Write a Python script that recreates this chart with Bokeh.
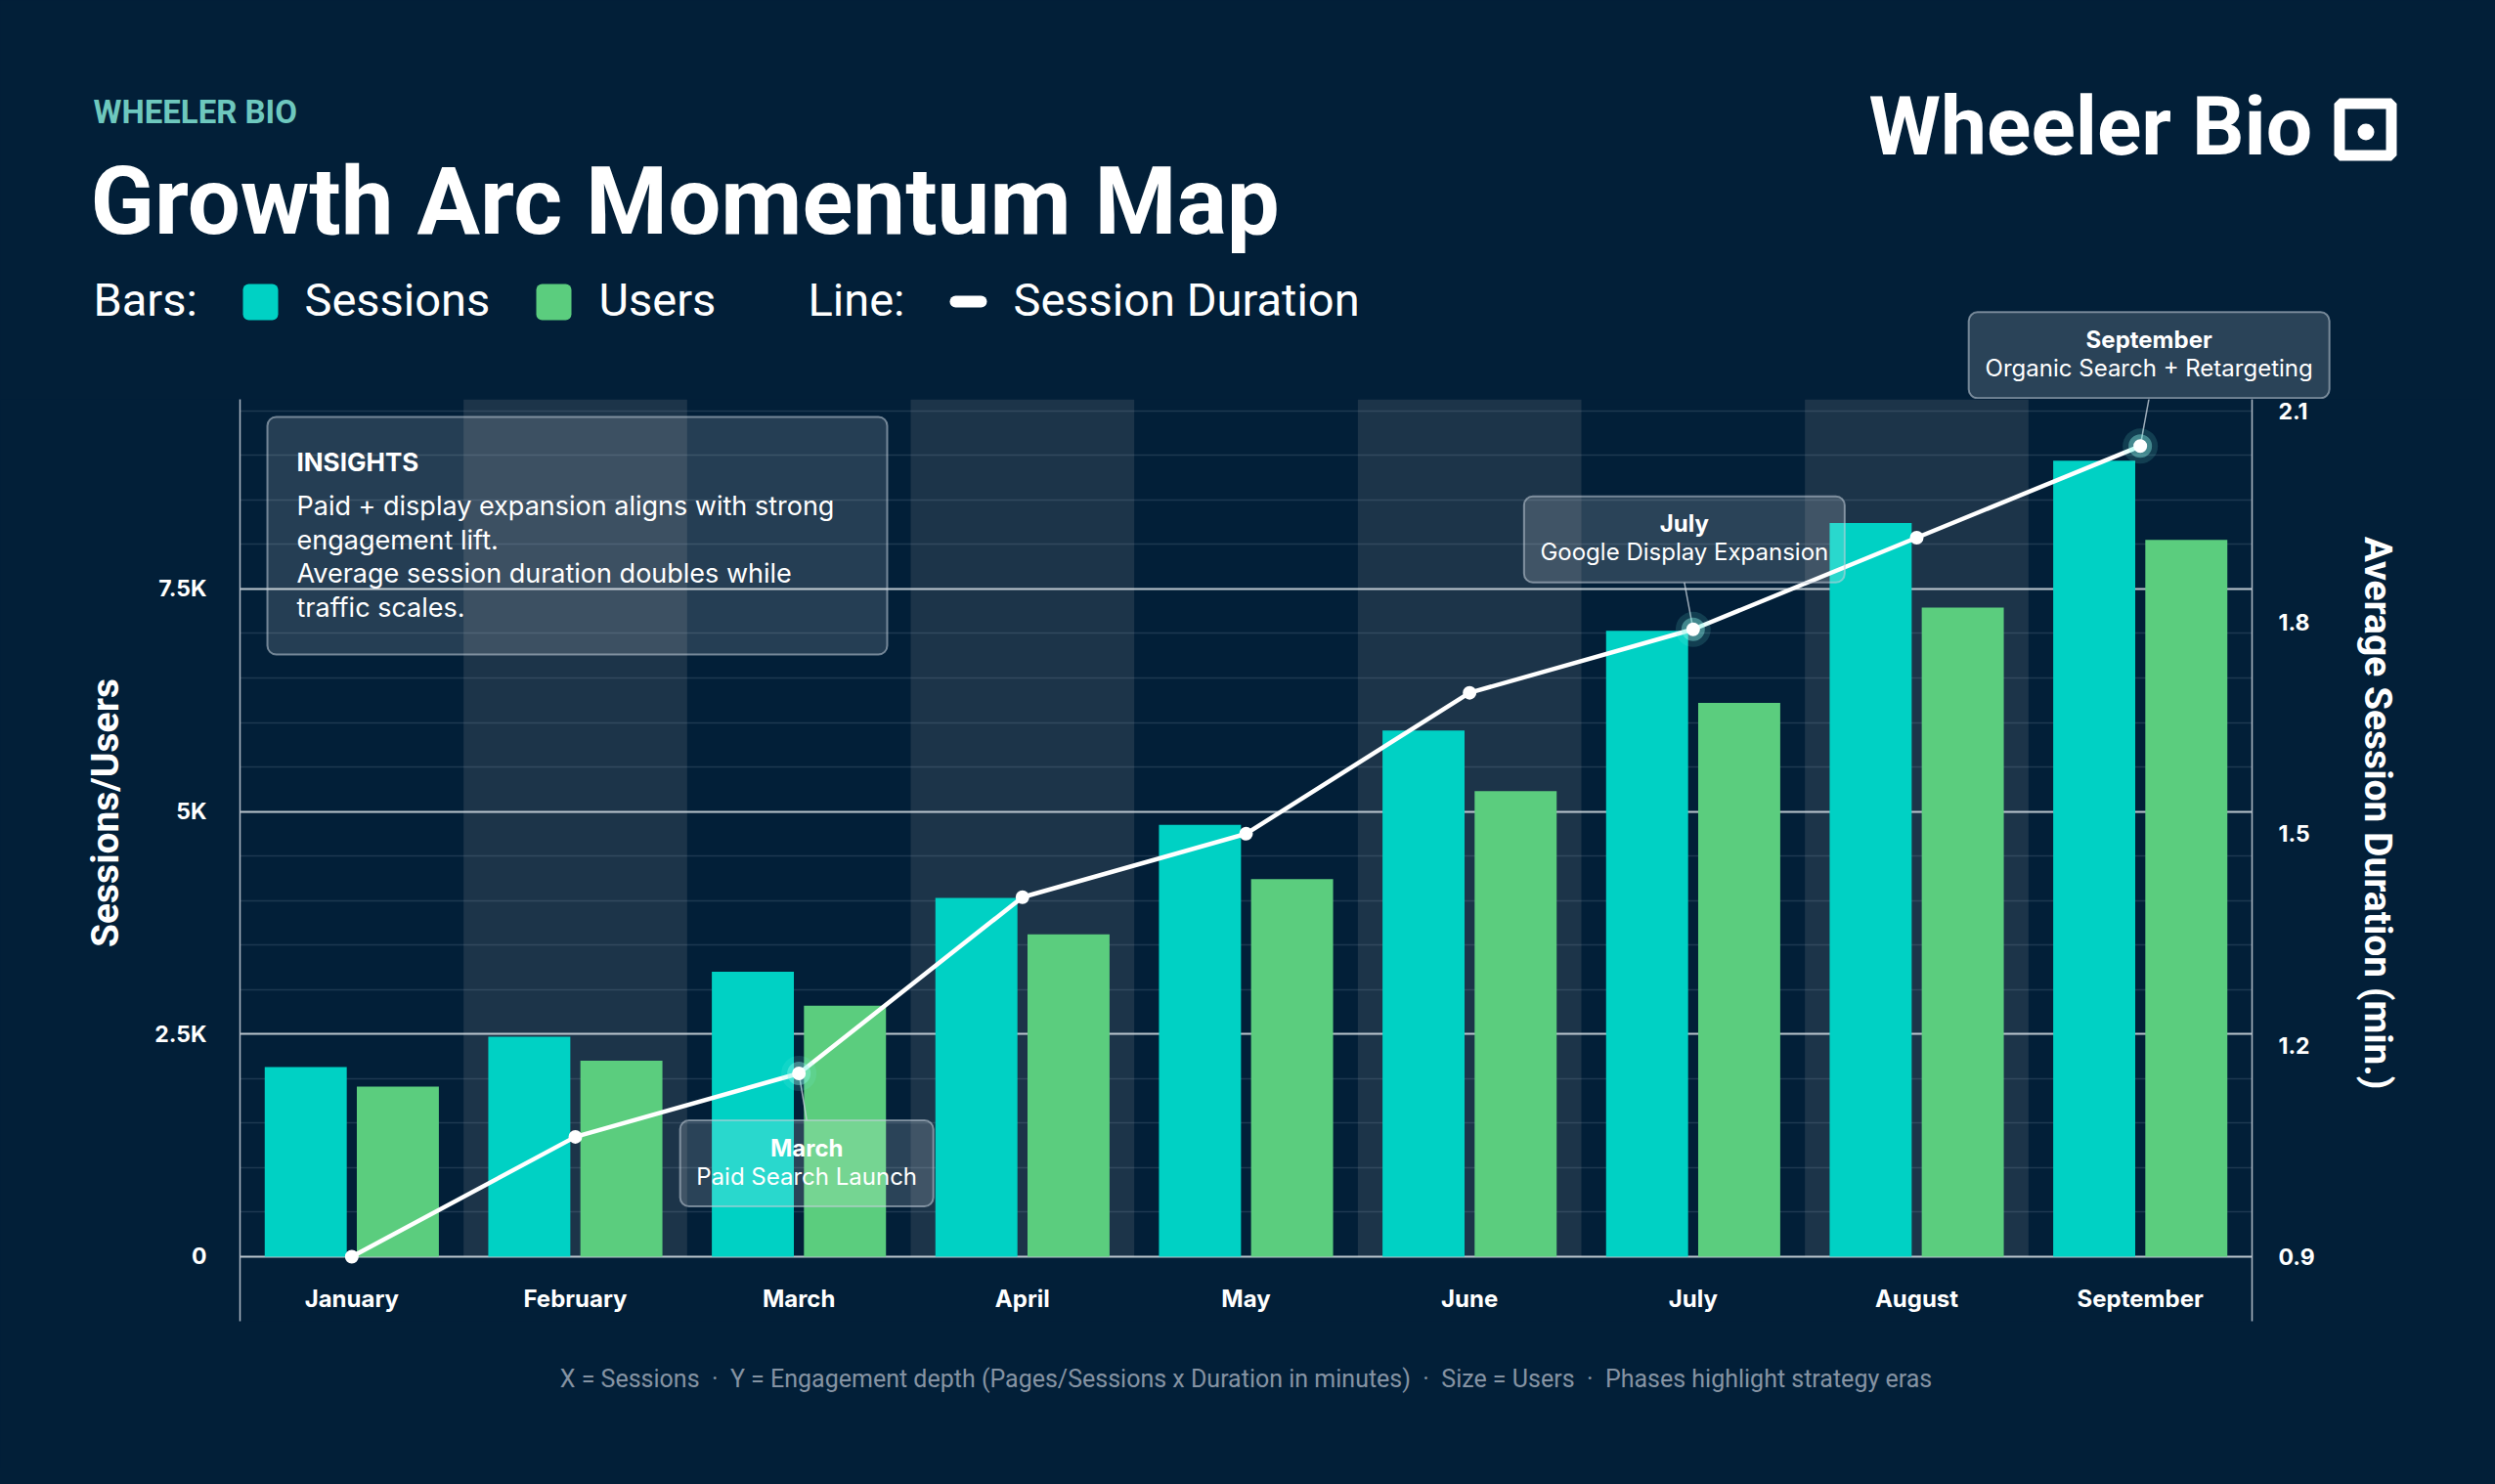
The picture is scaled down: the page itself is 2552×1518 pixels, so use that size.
from bokeh.plotting import figure
from bokeh.models import (ColumnDataSource, Range1d, FactorRange, LinearAxis, FixedTicker,
                          Label, BoxAnnotation, GlobalInlineStyleSheet)
from bokeh.transform import dodge
from bokeh.embed import file_html
from bokeh.resources import INLINE

# ---------------- data ----------------
months = ["January", "February", "March", "April", "May", "June", "July", "August", "September"]
sessions = [2130, 2470, 3200, 4030, 4850, 5910, 7030, 8240, 8940]
users = [1910, 2200, 2820, 3620, 4240, 5230, 6220, 7290, 8050]
duration = [0.90, 1.07, 1.16, 1.41, 1.50, 1.70, 1.79, 1.92, 2.05]
phase_months = ["February", "April", "June", "August"]

left_ticks = [0, 2500, 5000, 7500]
left_tick_labels = ["0", "2.5K", "5K", "7.5K"]
minor_ticks = [500, 1000, 1500, 2000, 3000, 3500, 4000, 4500, 5500, 6000, 6500, 7000,
               8000, 8500, 9000, 9500]
right_ticks = [0.9, 1.2, 1.5, 1.8, 2.1]
right_tick_labels = ["0.9", "1.2", "1.5", "1.8", "2.1"]

callout_months = ["March", "July", "September"]
callout_notes = ["Paid Search Launch", "Google Display Expansion", "Organic Search + Retargeting"]

insight_title = "INSIGHTS"
insight_lines = ["Paid + display expansion aligns with strong",
                 "engagement lift.",
                 "Average session duration doubles while",
                 "traffic scales."]

kicker = "WHEELER BIO"
title = "Growth Arc Momentum Map"
brand = "Wheeler Bio"
left_axis_title = "Sessions/Users"
right_axis_title = "Average Session Duration (min.)"
footnote = ("X = Sessions \u00a0\u00b7\u00a0 Y = Engagement depth (Pages/Sessions x Duration in minutes)"
            " \u00a0\u00b7\u00a0 Size = Users \u00a0\u00b7\u00a0 Phases highlight strategy eras")

# ---------------- style ----------------
BG = "#021f38"
BAND = "#1c3449"
TEAL = "#00d1c4"
GREEN = "#5bcd7e"
FONT = "Roboto"
BODY = "Inter"
BASE_FIX = 0.41           # label baseline correction (fraction of font size)
PAD = "\u00a0" * 10       # shifts the axis titles off the frame centre

W, H = 2536, 1502
FL, FR, FT, FB = 245, 2303, 408, 1351   # frame edges in page pixels
HDR_H = FT
Y0, Y1 = -725, 9629
D0, D1 = 0.8084, 2.1163
NCAT = len(months)


def X(page_x):
    """page pixel -> synthetic categorical coordinate"""
    return (page_x - FL) / (FR - FL) * NCAT


def page_x(i):
    return FL + (i + 0.5) * (FR - FL) / NCAT


def page_y_dur(d):
    return FB - (d - D0) / (D1 - D0) * (FB - FT)


# ================= header figure (page coordinates) =================
hdr = figure(width=W, height=HDR_H, x_range=Range1d(0, W), y_range=Range1d(HDR_H, 0),
             output_backend="svg", toolbar_location=None, x_axis_location=None,
             y_axis_location=None, min_border=0)
hdr.background_fill_color = BG
hdr.border_fill_color = BG
hdr.outline_line_color = None
hdr.grid.visible = False
hdr.stylesheets = [GlobalInlineStyleSheet(
    css="html, body { background-color: #021f38; } body > div > div { vertical-align: top; }")]


def htext(x, y, s, size, color="white", bold=False, align="left", font=FONT):
    hdr.add_layout(Label(x=x, y=y - BASE_FIX * size, text=s, text_font=font,
                         text_font_size=f"{size}px", text_color=color,
                         text_font_style="bold" if bold else "normal",
                         text_align=align, text_baseline="alphabetic"))


def hbox(left, right, top, bottom, **kw):
    hdr.add_layout(BoxAnnotation(left=left, right=right, top=top, bottom=bottom, **kw))


SOLID = dict(fill_alpha=1.0, line_color=None)

htext(95, 128, kicker, 33, color="#6ec8be", bold=True)
htext(92, 245, title, 96, bold=True)

htext(95, 325, "Bars:", 47)
hbox(248, 284, 290, 327, fill_color=TEAL, border_radius=6, **SOLID)
htext(311, 325, "Sessions", 47)
hbox(548, 584, 290, 327, fill_color=GREEN, border_radius=6, **SOLID)
htext(612, 325, "Users", 47)
htext(826, 325, "Line:", 47)
hbox(971, 1009, 302, 314, fill_color="white", border_radius=6, **SOLID)
htext(1036, 325, "Session Duration", 47)

htext(1911, 163, brand, 84, bold=True)
hbox(2392.5, 2445.5, 105.5, 158.5, fill_color=None, line_color="white", line_alpha=1.0, line_width=11)
hbox(2411, 2428, 126, 143, fill_color="white", border_radius=9, **SOLID)

# ================= main chart =================
p = figure(x_range=FactorRange(*months), y_range=Range1d(Y0, Y1),
           width=W, height=H - HDR_H, output_backend="svg", toolbar_location=None,
           min_border_left=FL, min_border_right=W - FR,
           min_border_top=0, min_border_bottom=H - FB)
p.extra_y_ranges = {"dur": Range1d(D0, D1), "py": Range1d(FB, FT)}
p.background_fill_color = BG
p.border_fill_color = BG
p.outline_line_color = None

lt = FixedTicker(ticks=left_ticks, minor_ticks=minor_ticks)
ya = p.yaxis[0]
ya.ticker = lt
ya.major_label_overrides = dict(zip(left_ticks, left_tick_labels))
ya.axis_line_color = "#aeb9c4"
ya.axis_line_width = 1.5
ya.major_tick_line_color = None
ya.minor_tick_line_color = None
ya.major_label_standoff = 28
ya.major_label_text_color = "white"
ya.major_label_text_font = BODY
ya.major_label_text_font_style = "bold"
ya.major_label_text_font_size = "23px"
ya.axis_label = PAD + left_axis_title
ya.axis_label_text_color = "white"
ya.axis_label_text_font = FONT
ya.axis_label_text_font_style = "bold"
ya.axis_label_text_font_size = "39px"
ya.axis_label_standoff = 24

g = p.ygrid[0]
g.ticker = lt
g.grid_line_color = "#cfd8df"
g.grid_line_width = 2
g.grid_line_alpha = 0.9
g.minor_grid_line_color = "#8aa0b4"
g.minor_grid_line_alpha = 0.2
g.minor_grid_line_width = 1.5
p.xgrid.visible = False

ra = LinearAxis(y_range_name="dur", ticker=FixedTicker(ticks=right_ticks))
ra.major_label_overrides = dict(zip(right_ticks, right_tick_labels))
ra.axis_line_color = "#aeb9c4"
ra.axis_line_width = 1.5
ra.major_tick_line_color = None
ra.minor_tick_line_color = None
ra.major_label_standoff = 21
ra.major_label_text_color = "white"
ra.major_label_text_font = BODY
ra.major_label_text_font_style = "bold"
ra.major_label_text_font_size = "23px"
ra.axis_label = right_axis_title + PAD
ra.axis_label_text_color = "white"
ra.axis_label_text_font = FONT
ra.axis_label_text_font_style = "bold"
ra.axis_label_text_font_size = "39px"
ra.axis_label_standoff = 38
p.add_layout(ra, "right")

xa = p.xaxis[0]
xa.axis_line_color = None
xa.major_tick_line_color = None
xa.minor_tick_line_color = None
xa.major_label_standoff = -44
xa.major_label_text_color = "white"
xa.major_label_text_font = BODY
xa.major_label_text_font_style = "bold"
xa.major_label_text_font_size = "24px"
xa.axis_label = footnote
xa.axis_label_text_color = "#8593a3"
xa.axis_label_text_font = FONT
xa.axis_label_text_font_style = "normal"
xa.axis_label_text_font_size = "25px"
xa.axis_label_standoff = 50

# phase bands
p.vbar(x=phase_months, top=Y1, bottom=0, width=1.0, fill_color=BAND, line_color=None, level="image")

src = ColumnDataSource(dict(month=months, sessions=sessions, users=users, duration=duration))
p.vbar(x=dodge("month", -0.206, range=p.x_range), top="sessions", width=0.367, source=src,
       fill_color=TEAL, line_color=None)
p.vbar(x=dodge("month", 0.206, range=p.x_range), top="users", width=0.367, source=src,
       fill_color=GREEN, line_color=None)

p.line(x="month", y="duration", source=src, y_range_name="dur", line_color="white", line_width=4.5)


def box(left, right, top, bottom, **kw):
    p.add_layout(BoxAnnotation(left=X(left), right=X(right), top=top, bottom=bottom,
                               y_range_name="py", **kw))


def text(x, y, s, size, color="white", bold=False, align="left", font=BODY):
    p.add_layout(Label(x=X(x), y=y - BASE_FIX * size, text=s, y_range_name="py",
                       text_font=font, text_font_size=f"{size}px", text_color=color,
                       text_font_style="bold" if bold else "normal",
                       text_align=align, text_baseline="alphabetic"))


GLASS = dict(fill_color="white", fill_alpha=0.16, line_color="#c4d0da", line_alpha=0.55,
             line_width=2, border_radius=9)

# callouts (a box that sits above the frame goes into the header figure)
c_idx = [months.index(m) for m in callout_months]
c_dur = [duration[i] for i in c_idx]
c_layout = [  # (dx from point to box centre, edge offset, box width, placed below?)
    (8, 48, 259, True),
    (-9, 48, 328, False),
    (9, 49, 369, False),
]
BOX_H = 88
lx0, ly0, lx1, ly1 = [], [], [], []
for k, i in enumerate(c_idx):
    px, py = page_x(i), page_y_dur(c_dur[k])
    dx, off, bw, below = c_layout[k]
    cx = px + dx
    if below:
        top = py + off
        edge = top
    else:
        top = py - off - BOX_H
        edge = top + BOX_H
    lx0.append(X(px)); ly0.append(py); lx1.append(X(cx)); ly1.append(edge)
    if top < FT:
        hbox(cx - bw / 2, cx + bw / 2, top, top + BOX_H, **GLASS)
        htext(cx, top + 38, callout_months[k], 24, bold=True, align="center", font=BODY)
        htext(cx, top + 67, callout_notes[k], 24, align="center", font=BODY)
    else:
        box(cx - bw / 2, cx + bw / 2, top, top + BOX_H, **GLASS)
        text(cx, top + 38, callout_months[k], 24, bold=True, align="center")
        text(cx, top + 67, callout_notes[k], 24, align="center")

p.segment(x0=lx0, y0=ly0, x1=lx1, y1=ly1, y_range_name="py",
          line_color="#c4d0da", line_alpha=0.8, line_width=1.5)

p.scatter(x=callout_months, y=c_dur, y_range_name="dur", size=36, fill_color="#6ff3e4",
          fill_alpha=0.15, line_color=None)
p.scatter(x=callout_months, y=c_dur, y_range_name="dur", size=24, fill_color="#8ff7ec",
          fill_alpha=0.4, line_color=None)
p.scatter(x="month", y="duration", source=src, y_range_name="dur", size=14,
          fill_color="white", line_color=None)

# insights box
box(273, 907, 426, 669, **dict(GLASS, fill_alpha=0.14))
text(303, 483, insight_title, 26, bold=True)
for k, line in enumerate(insight_lines):
    text(303, 528 + k * 34.6, line, 27)

open("out.html", "w").write(file_html([hdr, p], INLINE))
